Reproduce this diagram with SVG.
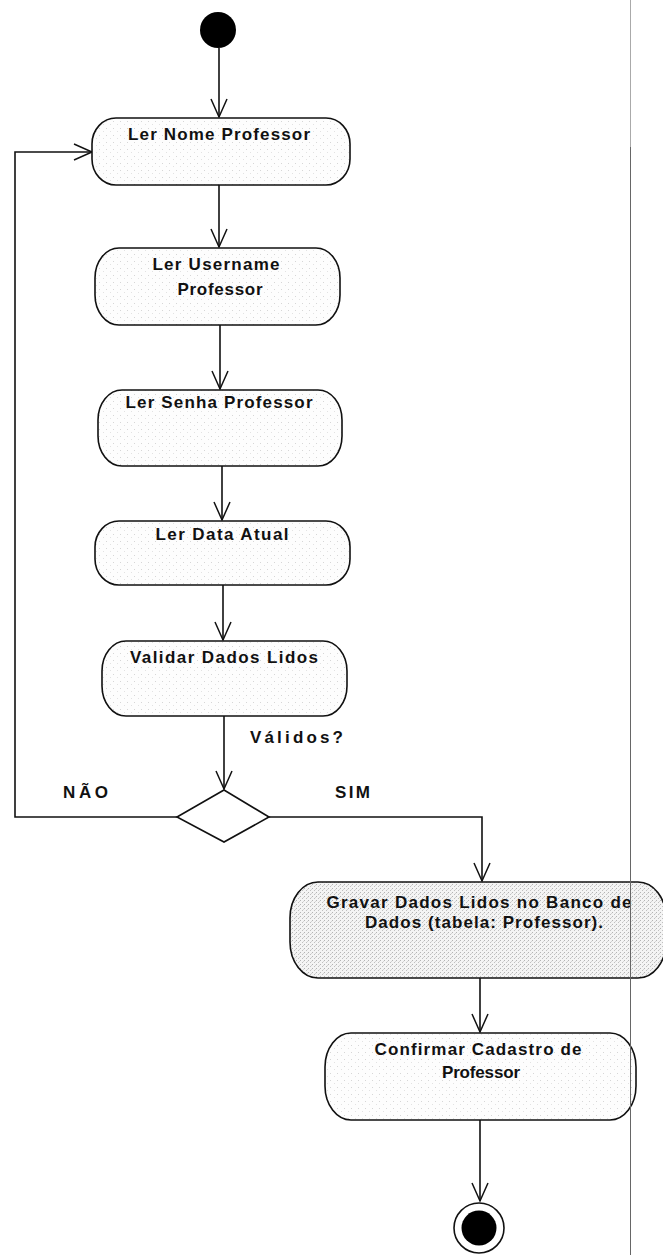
<svg xmlns="http://www.w3.org/2000/svg" width="663" height="1255" viewBox="0 0 663 1255">
  <style>
    .act { stroke: #111; stroke-width: 1.6; fill: url(#grain); }
    .act-dark { stroke: #111; stroke-width: 1.6; fill: url(#grainDark); }
    .lbl { font-family: "Liberation Sans", Arial, sans-serif; font-size: 17px; font-weight: bold; fill: #111; text-anchor: middle; }
    .guard { font-family: "Liberation Sans", Arial, sans-serif; font-size: 17px; font-weight: bold; fill: #111; }
    .flow { stroke: #111; stroke-width: 1.6; fill: none; marker-end: url(#open); }
    .decision { stroke: #111; stroke-width: 1.6; fill: #fff; }
  </style>
  <defs>
    <!-- light speckled fill of the activity states -->
    <pattern id="grain" width="7" height="7" patternUnits="userSpaceOnUse">
      <rect width="7" height="7" fill="#fdfdfd"/>
      <rect x="1" y="2" width="1" height="1" fill="#d6d6d6"/>
      <rect x="5" y="5" width="1" height="1" fill="#e2e2e2"/>
    </pattern>
    <pattern id="grainDark" width="4" height="4" patternUnits="userSpaceOnUse">
      <rect width="4" height="4" fill="#f4f4f4"/>
      <rect x="0" y="0" width="1" height="1" fill="#b4b4b4"/>
      <rect x="2" y="2" width="1" height="1" fill="#c0c0c0"/>
      <rect x="3" y="1" width="1" height="1" fill="#d4d4d4"/>
    </pattern>
    <!-- open V arrowhead -->
    <marker id="open" markerUnits="userSpaceOnUse" markerWidth="22" markerHeight="20" viewBox="-20 -10 22 20" refX="0" refY="0" orient="auto">
      <path d="M-18,-8 L0,0 L-18,8" fill="none" stroke="#111" stroke-width="1.5"/>
    </marker>
  </defs>

  <!-- transitions -->
  <g id="connectors">
    <line class="flow" x1="219" y1="48" x2="219" y2="117"/>
    <line class="flow" x1="219" y1="185" x2="219" y2="247"/>
    <line class="flow" x1="220" y1="325" x2="220" y2="389"/>
    <line class="flow" x1="222" y1="466" x2="222" y2="520"/>
    <line class="flow" x1="223" y1="585" x2="223" y2="640"/>
    <line class="flow" x1="224" y1="716" x2="224" y2="789"/>
    <polyline class="flow" points="177,817 15,817 15,152 92,152"/>
    <polyline class="flow" points="269,817 482,817 482,881"/>
    <line class="flow" x1="480" y1="978" x2="480" y2="1032"/>
    <line class="flow" x1="480" y1="1120" x2="480" y2="1201"/>
  </g>

  <g id="start">
    <circle cx="218" cy="30" r="18" fill="#000"/>
  </g>

  <g id="lerNome">
    <rect class="act" x="92" y="118" width="258" height="67" rx="24" ry="26"/>
    <text class="lbl" x="219" y="140" textLength="182" lengthAdjust="spacing">Ler Nome Professor</text>
  </g>

  <g id="lerUsername">
    <rect class="act" x="95" y="248" width="245" height="77" rx="24" ry="30"/>
    <text class="lbl" x="216" y="270" textLength="127" lengthAdjust="spacing">Ler Username</text>
    <text class="lbl" x="220" y="295" textLength="85" lengthAdjust="spacing">Professor</text>
  </g>

  <g id="lerSenha">
    <rect class="act" x="98" y="390" width="244" height="76" rx="24" ry="30"/>
    <text class="lbl" x="219" y="408" textLength="187" lengthAdjust="spacing">Ler Senha Professor</text>
  </g>

  <g id="lerData">
    <rect class="act" x="95" y="521" width="255" height="64" rx="24" ry="26"/>
    <text class="lbl" x="222" y="540" textLength="133" lengthAdjust="spacing">Ler Data Atual</text>
  </g>

  <g id="validar">
    <rect class="act" x="102" y="641" width="245" height="75" rx="24" ry="30"/>
    <text class="lbl" x="224" y="663" textLength="188" lengthAdjust="spacing">Validar Dados Lidos</text>
  </g>

  <g id="decisao">
    <polygon class="decision" points="224,790 269,817 224,842 177,817"/>
    <text class="guard" x="250" y="743" textLength="93" lengthAdjust="spacing">Válidos?</text>
    <text class="guard" x="63" y="798" textLength="45" lengthAdjust="spacing">NÃO</text>
    <text class="guard" x="335" y="798" textLength="35" lengthAdjust="spacing">SIM</text>
  </g>

  <g id="gravar">
    <rect class="act-dark" x="290" y="882" width="376" height="96" rx="28" ry="36"/>
    <text class="lbl" x="479" y="908" textLength="305" lengthAdjust="spacing">Gravar Dados Lidos no Banco de</text>
    <text class="lbl" x="484" y="928" textLength="238" lengthAdjust="spacing">Dados (tabela: Professor).</text>
  </g>

  <g id="confirmar">
    <rect class="act" x="325" y="1033" width="311" height="87" rx="26" ry="34"/>
    <text class="lbl" x="478" y="1055" textLength="207" lengthAdjust="spacing">Confirmar Cadastro de</text>
    <text class="lbl" x="481" y="1078" textLength="78" lengthAdjust="spacing">Professor</text>
  </g>

  <g id="end">
    <circle cx="479" cy="1228" r="25" fill="#fff" stroke="#111" stroke-width="1.6"/>
    <circle cx="479" cy="1228" r="17.5" fill="#000"/>
  </g>

  <!-- page margin rule -->
  <line x1="630.5" y1="0" x2="630.5" y2="147" stroke="#aaa" stroke-width="1"/>
  <line x1="630.5" y1="147" x2="630.5" y2="1255" stroke="#666" stroke-width="1"/>
</svg>
